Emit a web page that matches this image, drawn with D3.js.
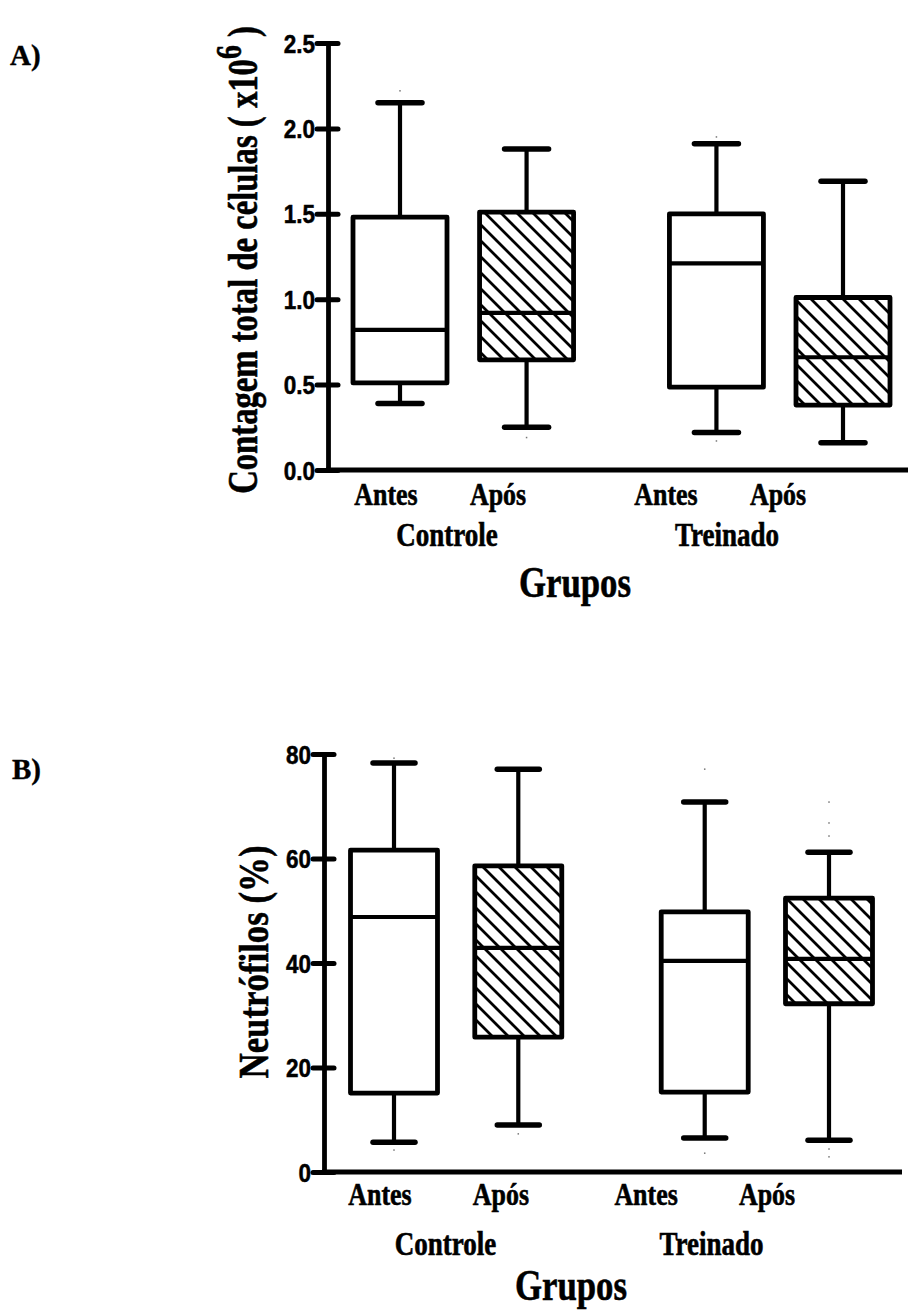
<!DOCTYPE html>
<html>
<head>
<meta charset="utf-8">
<script src="https://cdn.jsdelivr.net/npm/d3@7"></script>
<style>
  html, body { margin: 0; padding: 0; background: #fff; }
  svg { display: block; }
</style>
</head>
<body>
<svg id="chart" width="909" height="1311"></svg>
<script>
// ---------------- DATA ----------------
const categories = ["Antes", "Após", "Antes", "Após"];
const groups = ["Controle", "Treinado"];
const hatched = [false, true, false, true];

// Panel A: Contagem total de células (x10^6)
const aMin    = [0.39, 0.25, 0.22, 0.16];
const aQ1     = [0.51, 0.645, 0.485, 0.38];
const aMedian = [0.82, 0.92, 1.21, 0.66];
const aQ3     = [1.48, 1.51, 1.50, 1.01];
const aMax    = [2.15, 1.88, 1.91, 1.69];
const aPoints = [[2.22], [0.19], [1.95, 0.17], []];
const aTicks  = [0.0, 0.5, 1.0, 1.5, 2.0, 2.5];

// Panel B: Neutrófilos (%)
const bMin    = [5.7, 9.0, 6.5, 6.1];
const bQ1     = [15.1, 25.8, 15.3, 32.2];
const bMedian = [48.8, 42.9, 40.4, 40.8];
const bQ3     = [61.6, 58.6, 49.8, 52.4];
const bMax    = [78.3, 77.1, 70.8, 61.2];
const bPoints = [[79.2, 4.2], [7.3], [77.1, 3.6], [70.8, 66.8, 64.3, 4.4, 2.9]];
const bTicks  = [0, 20, 40, 60, 80];

// ---------------- LAYOUT ----------------
const slots = [0, 1, 2.5, 3.5];
const panels = [
  {
    letter: "A)", letterX: 10, letterY: 65,
    min: aMin, q1: aQ1, med: aMedian, q3: aQ3, max: aMax, pts: aPoints,
    ticks: aTicks, fmt: d3.format(".1f"), domain: [0, 2.5],
    yRange: [470, 43], axisX: 328, axisRight: 908,
    boxRange: [400, 843], boxW: 94, capW: 48,
    labelSlots: [0, 1, 2.5, 3.5], labelRange: [386, 778], labelY: 505,
    groupY: 546, titleY: 597, titleX: 575,
    yTitleX: 257, yTitleY: 260, yTitleScale: 0.76,
    yTitle: "a"
  },
  {
    letter: "B)", letterX: 12, letterY: 779,
    min: bMin, q1: bQ1, med: bMedian, q3: bQ3, max: bMax, pts: bPoints,
    ticks: bTicks, fmt: d3.format("d"), domain: [0, 80],
    yRange: [1172, 754], axisX: 324, axisRight: 902,
    boxRange: [394, 829], boxW: 87, capW: 46,
    labelSlots: [0, 1, 2.2, 3.2], labelRange: [380, 767], labelY: 1205,
    groupY: 1255, titleY: 1300, titleX: 571,
    yTitleX: 268, yTitleY: 962, yTitleScale: 0.81,
    yTitle: "b"
  }
];

const svg = d3.select("#chart");
const defs = svg.append("defs");
const pat = defs.append("pattern")
  .attr("id", "hatch")
  .attr("patternUnits", "userSpaceOnUse")
  .attr("width", 16).attr("height", 16);
pat.append("rect").attr("width", 16).attr("height", 16).attr("fill", "#fff");
pat.append("path")
  .attr("d", "M0,0 L16,16 M-8,8 L8,24 M8,-8 L24,8")
  .attr("stroke", "#000").attr("stroke-width", 2.8);

const serif = "'Liberation Serif', 'Times New Roman', serif";
const sans = "'Liberation Sans', Arial, sans-serif";

function squeezedText(g, x, y, txt, size, sx, anchor) {
  return g.append("text")
    .attr("transform", `translate(${x},${y}) scale(${sx},1)`)
    .attr("text-anchor", anchor || "middle")
    .attr("font-family", serif)
    .attr("font-weight", "bold")
    .attr("font-size", size)
    .attr("fill", "#000")
    .attr("stroke", "#000").attr("stroke-width", 0.6)
    .text(txt);
}

panels.forEach(p => {
  const g = svg.append("g");
  const y = d3.scaleLinear().domain(p.domain).range(p.yRange);
  const x = d3.scaleLinear().domain([0, 3.5]).range(p.boxRange);
  const lx = d3.scaleLinear().domain([0, p.labelSlots[3]]).range(p.labelRange);

  // panel letter
  g.append("text")
    .attr("x", p.letterX).attr("y", p.letterY)
    .attr("font-family", serif).attr("font-weight", "bold")
    .attr("stroke", "#000").attr("stroke-width", 0.4)
    .attr("font-size", 29).text(p.letter);

  // boxes
  categories.forEach((c, i) => {
    const cx = x(slots[i]);
    const bg = g.append("g");
    // whiskers
    bg.append("line").attr("x1", cx).attr("x2", cx)
      .attr("y1", y(p.q3[i])).attr("y2", y(p.max[i]))
      .attr("stroke", "#000").attr("stroke-width", 4.2);
    bg.append("line").attr("x1", cx).attr("x2", cx)
      .attr("y1", y(p.q1[i])).attr("y2", y(p.min[i]))
      .attr("stroke", "#000").attr("stroke-width", 4.2);
    // caps
    [p.max[i], p.min[i]].forEach(v => {
      bg.append("line")
        .attr("x1", cx - p.capW / 2 + 2).attr("x2", cx + p.capW / 2 - 2)
        .attr("y1", y(v)).attr("y2", y(v))
        .attr("stroke", "#000").attr("stroke-width", 5.5)
        .attr("stroke-linecap", "round");
    });
    // box
    bg.append("rect")
      .attr("x", cx - p.boxW / 2).attr("width", p.boxW)
      .attr("y", y(p.q3[i])).attr("height", y(p.q1[i]) - y(p.q3[i]))
      .attr("fill", hatched[i] ? "url(#hatch)" : "#fff")
      .attr("stroke", "#000").attr("stroke-width", 4.8)
      .attr("stroke-linejoin", "round");
    // median
    bg.append("line")
      .attr("x1", cx - p.boxW / 2).attr("x2", cx + p.boxW / 2)
      .attr("y1", y(p.med[i])).attr("y2", y(p.med[i]))
      .attr("stroke", "#000").attr("stroke-width", 4.2);
    // faint individual points
    p.pts[i].forEach(v => {
      bg.append("rect").attr("x", cx - 0.75).attr("y", y(v) - 0.75)
        .attr("width", 1.5).attr("height", 1.5).attr("fill", "#777");
    });
  });

  // y axis
  const ax = g.append("g").attr("transform", `translate(${p.axisX},0)`)
    .call(d3.axisLeft(y).tickValues(p.ticks).tickFormat(p.fmt).tickSizeOuter(0).tickSizeInner(11));
  ax.select(".domain").attr("stroke", "#000").attr("stroke-width", 4.8);
  ax.selectAll(".tick line").attr("x1", 10).attr("x2", -11)
    .attr("stroke", "#000").attr("stroke-width", 5).attr("stroke-linecap", "round");
  ax.selectAll(".tick text")
    .attr("x", null).attr("dy", "0.36em")
    .attr("transform", "translate(-13,0) scale(0.9,1)")
    .attr("font-family", sans).attr("font-weight", "bold")
    .attr("stroke", "#000").attr("stroke-width", 0.5)
    .attr("font-size", 25).attr("fill", "#000");

  // x axis baseline
  g.append("line")
    .attr("x1", p.axisX - 2).attr("x2", p.axisRight)
    .attr("y1", y(0)).attr("y2", y(0))
    .attr("stroke", "#000").attr("stroke-width", 5);

  // category labels
  categories.forEach((c, i) => {
    squeezedText(g, lx(p.labelSlots[i]), p.labelY, c, 32, 0.81);
  });
  // group labels
  groups.forEach((gr, k) => {
    const mid = (lx(p.labelSlots[2 * k]) + lx(p.labelSlots[2 * k + 1])) / 2 + 5;
    squeezedText(g, mid, p.groupY, gr, 33, 0.82);
  });
  // x title
  squeezedText(g, p.titleX, p.titleY, "Grupos", 44, 0.79);

  // y title
  const yt = g.append("text")
    .attr("transform", `translate(${p.yTitleX},${p.yTitleY}) rotate(-90) scale(${p.yTitleScale},1)`)
    .attr("text-anchor", "middle")
    .attr("font-family", serif).attr("font-weight", "bold")
    .attr("stroke", "#000").attr("stroke-width", 0.6)
    .attr("font-size", 43).attr("fill", "#000");
  if (p.yTitle === "a") {
    yt.append("tspan").text("Contagem total de células ( x10");
    yt.append("tspan").attr("dy", "-0.45em").attr("font-size", "85%").text("6");
    yt.append("tspan").attr("dy", "0.38em").text(" )");
  } else {
    yt.text("Neutrófilos (%)");
  }
});
</script>
</body>
</html>
